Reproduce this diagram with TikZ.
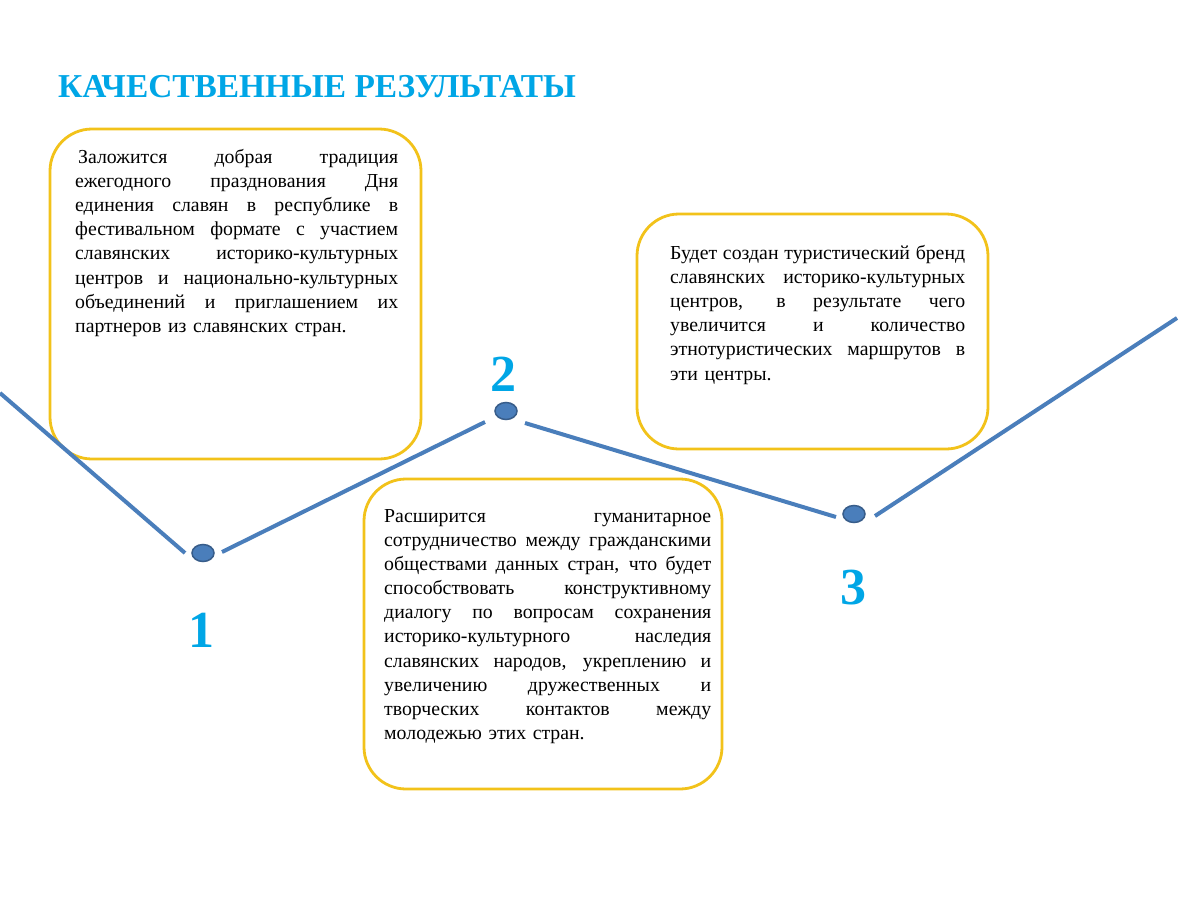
\documentclass[tikz,border=0pt]{standalone}
\usepackage{fontspec}
\setmainfont{Liberation Serif}
\usetikzlibrary{shapes.geometric}
\definecolor{titleblue}{HTML}{00A6E6}
\definecolor{lineblue}{HTML}{4A7EBB}
\definecolor{dotedge}{HTML}{385D8A}
\definecolor{boxyellow}{HTML}{F2C21A}
\newcommand{\fullline}[1]{\hbox to \hsize{\spaceskip=0.25em plus 1fil\xspaceskip=0.25em plus 1fil #1}}
\newcommand{\lastline}[1]{\hbox to \hsize{#1\hfil}}
\tikzset{
  resbox/.style={draw=boxyellow, line width=2.8pt, rounded corners=42pt, fill=white},
  restext/.style={anchor=north west, inner sep=0pt, font=\fontsize{19.8}{24.15}\selectfont},
  dotnode/.style={ellipse, draw=dotedge, line width=1.5pt, fill=lineblue, minimum width=22pt, minimum height=17pt, inner sep=0pt},
  conn/.style={draw=lineblue, line width=4pt},
  numtext/.style={text=titleblue, font=\fontsize{52}{52}\selectfont\bfseries},
}
\begin{document}
\begin{tikzpicture}[x=1pt,y=-1pt]
\useasboundingbox[fill=white] (0,0) rectangle (1200,900);
% title
\node[anchor=base west, inner sep=0pt, text=titleblue, font=\fontsize{33.4}{36}\selectfont\bfseries] (title) at (58,97) {КАЧЕСТВЕННЫЕ РЕЗУЛЬТАТЫ};
% boxes
\draw[resbox] (50,129) rectangle (421,459);
\draw[resbox] (637,214) rectangle (988,449);
\draw[resbox] (364,479) rectangle (722,789);
% texts
\node[restext, text width=323pt] (t1) at (75,149) {%
\fullline{\hspace{3pt}Заложится добрая традиция}
\fullline{ежегодного празднования Дня}
\fullline{единения славян в республике в}
\fullline{фестивальном формате с участием}
\fullline{славянских историко-культурных}
\fullline{центров и национально-культурных}
\fullline{объединений и приглашением их}
\lastline{партнеров из славянских стран.}};
\node[restext, text width=295pt] (t2) at (670,245) {%
\fullline{Будет создан туристический бренд}
\fullline{славянских историко-культурных}
\fullline{центров, в результате чего}
\fullline{увеличится и количество}
\fullline{этнотуристических маршрутов в}
\lastline{эти центры.}};
\node[restext, text width=327pt] (t3) at (384,509) {%
\fullline{Расширится гуманитарное}
\fullline{сотрудничество между гражданскими}
\fullline{обществами данных стран, что будет}
\fullline{способствовать конструктивному}
\fullline{диалогу по вопросам сохранения}
\fullline{историко-культурного наследия}
\fullline{славянских народов, укреплению и}
\fullline{увеличению дружественных и}
\fullline{творческих контактов между}
\lastline{молодежью этих стран.}};
% dots
\node[dotnode] (d1) at (203,553) {};
\node[dotnode] (d2) at (506,411) {};
\node[dotnode] (d3) at (854,514) {};
% free ends and gap points
\coordinate (s0) at (0,393);
\coordinate (a1) at (185,553);
\coordinate (b1) at (222,552);
\coordinate (a2) at (485,422);
\coordinate (b2) at (525,423);
\coordinate (a3) at (836,517);
\coordinate (b3) at (875,516);
\coordinate (e0) at (1177,318);
\draw[conn] (s0) -- (a1);
\draw[conn] (b1) -- (a2);
\draw[conn] (b2) -- (a3);
\draw[conn] (b3) -- (e0);
% numbers
\node[numtext] (n1) at (201,630) {1};
\node[numtext] (n2) at (503,374) {2};
\node[numtext] (n3) at (853,588) {3};
\end{tikzpicture}
\end{document}
